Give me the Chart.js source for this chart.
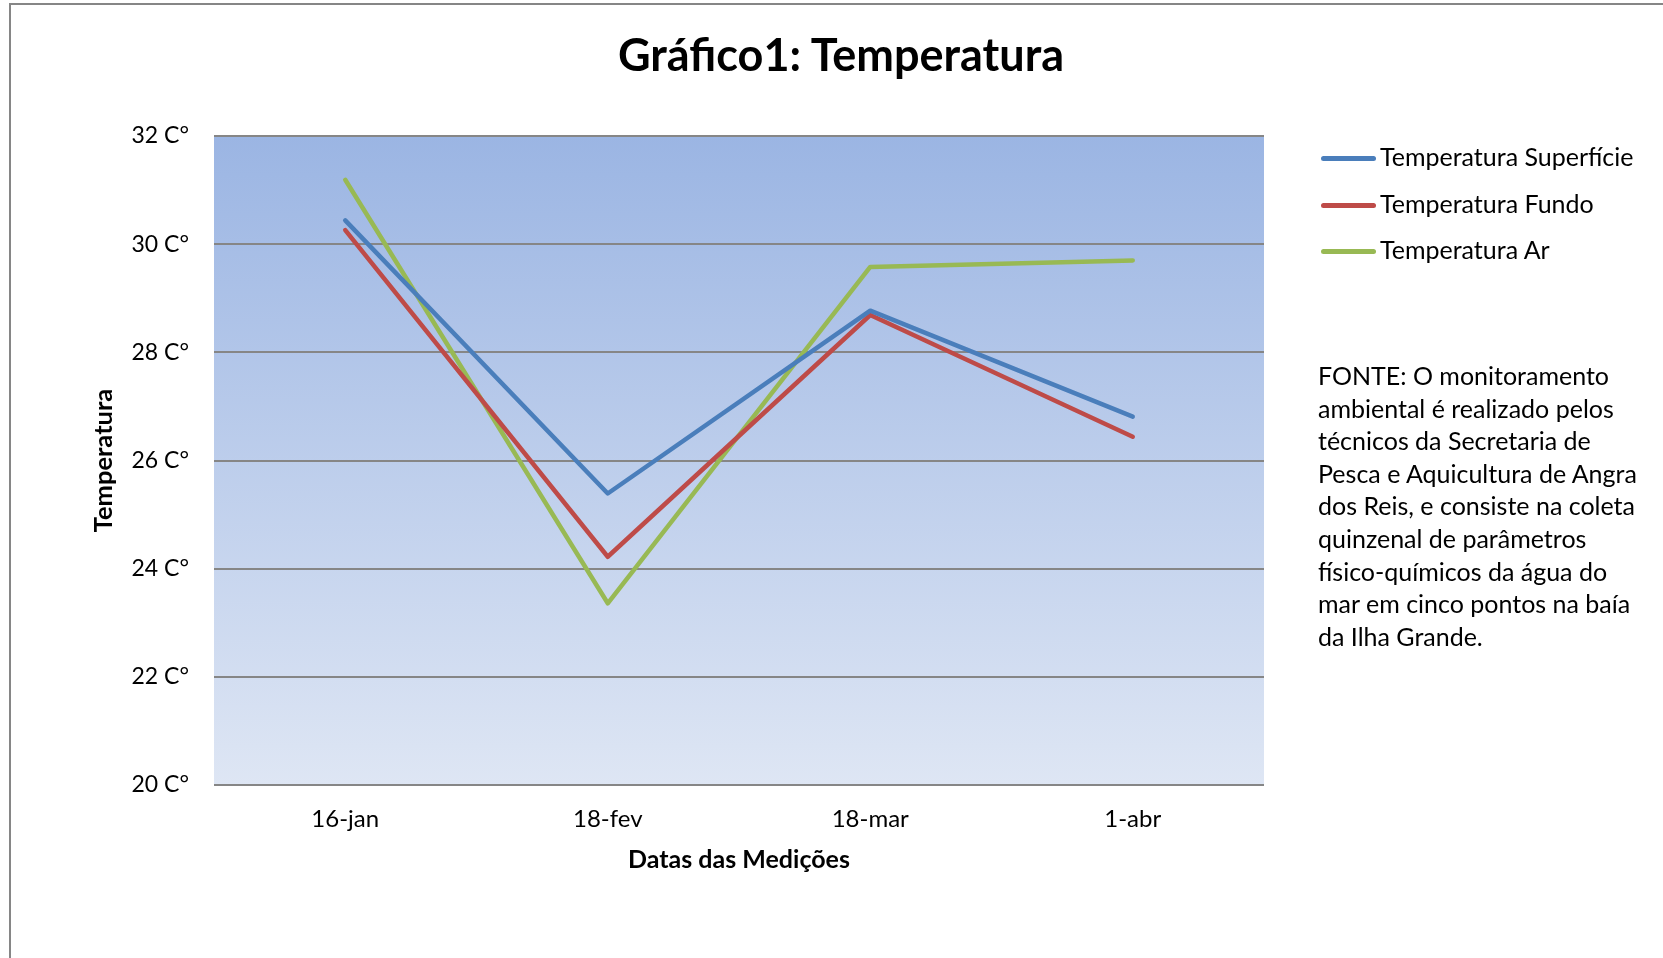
<!DOCTYPE html>
<html>
<head>
<meta charset="utf-8">
<script src="https://cdn.jsdelivr.net/npm/chart.js@4"></script>
<style>
  html, body { margin: 0; padding: 0; background: #fff; }
  body { width: 1663px; height: 958px; position: relative; overflow: hidden; font-family: Lato, "Open Sans", sans-serif; }
  #frame { position: absolute; left: 9px; top: 3px; width: 1700px; height: 1000px; border-left: 2px solid #868686; border-top: 2px solid #868686; }
  #wrap { position: absolute; left: 0; top: 0; width: 1663px; height: 958px; }
  #title { position: absolute; left: 0; width: 1682px; top: 28px; text-align: center; font-weight: bold; font-size: 45px; color: #000; line-height: 52px; }
  #legend { position: absolute; left: 1321px; top: 140px; }
  .li { position: relative; height: 46.5px; font-size: 25px; color: #000; line-height: 32px; white-space: nowrap; }
  .li span.sw { display: inline-block; width: 55px; height: 5px; border-radius: 3px; vertical-align: middle; margin-right: 4px; position: relative; top: -1px; }
  #note { position: absolute; left: 1318px; top: 359px; width: 345px; font-size: 25px; line-height: 32.6px; color: #000; white-space: nowrap; }
</style>
</head>
<body>
<div id="frame"></div>
<div id="wrap"><canvas id="c" width="1663" height="958"></canvas></div>
<div id="title">Gráfico1: Temperatura</div>
<div id="legend"></div>
<div id="note">FONTE: O monitoramento<br>ambiental é realizado pelos<br>técnicos da Secretaria de<br>Pesca e Aquicultura de Angra<br>dos Reis, e consiste na coleta<br>quinzenal de parâmetros<br>físico-químicos da água do<br>mar em cinco pontos na baía<br>da Ilha Grande.</div>
<script>
const categories = ['16-jan', '18-fev', '18-mar', '1-abr'];
const superficie = [30.44, 25.39, 28.77, 26.81];
const fundo = [30.26, 24.22, 28.69, 26.44];
const ar = [31.19, 23.36, 29.58, 29.70];
const seriesNames = ['Temperatura Superfície', 'Temperatura Fundo', 'Temperatura Ar'];
const yTicks = [20, 22, 24, 26, 28, 30, 32];
const yUnit = ' C°';
const xTitle = 'Datas das Medições';
const yTitle = 'Temperatura';

const colors = ['#4A7EBB', '#BE4B48', '#98B954'];

const bgPlugin = {
  id: 'plotBg',
  beforeDraw(chart) {
    const {ctx, chartArea: a} = chart;
    const g = ctx.createLinearGradient(0, a.top, 0, a.bottom);
    g.addColorStop(0, '#9BB5E3');
    g.addColorStop(1, '#DEE6F4');
    ctx.save();
    ctx.fillStyle = g;
    ctx.fillRect(a.left, a.top, a.right - a.left, a.bottom - a.top);
    ctx.restore();
  }
};

const font = "Lato, 'Open Sans', sans-serif";
const chart = new Chart(document.getElementById('c'), {
  type: 'line',
  data: {
    labels: categories,
    datasets: [superficie, fundo, ar].map((d, i) => ({
      label: seriesNames[i],
      data: d,
      borderColor: colors[i],
      backgroundColor: colors[i],
      borderWidth: 4.5,
      pointRadius: 0,
      tension: 0,
      borderCapStyle: 'round',
      borderJoinStyle: 'round'
    }))
  },
  options: {
    responsive: false,
    animation: false,
    layout: { padding: { left: 0, top: 136, right: 399, bottom: 0 } },
    plugins: { legend: { display: false }, title: { display: false }, tooltip: { enabled: false } },
    scales: {
      x: {
        offset: true,
        grid: { display: false, drawTicks: false },
        border: { display: false },
        ticks: { color: '#000', font: { family: font, size: 24 }, padding: 20 },
        title: { display: true, text: xTitle, color: '#000', font: { family: font, size: 25, weight: 'bold' }, padding: { top: 0, bottom: 83 } },
        afterFit(s) { s.height = 958 - 785; }
      },
      y: {
        min: 20, max: 32,
        afterBuildTicks(s) { s.ticks = yTicks.map(v => ({ value: v })); },
        grid: { color: '#868686', lineWidth: 2, drawTicks: false },
        border: { display: false },
        ticks: { color: '#000', font: { family: font, size: 23 }, padding: 25, callback: v => v + yUnit },
        title: { display: true, text: yTitle, color: '#000', font: { family: font, size: 25.5, weight: 'bold' }, padding: { top: 88, bottom: 0 } },
        afterFit(s) { s.width = 214; }
      }
    }
  },
  plugins: [bgPlugin]
});

const leg = document.getElementById('legend');
chart.data.datasets.forEach(ds => {
  const d = document.createElement('div');
  d.className = 'li';
  const sw = document.createElement('span');
  sw.className = 'sw';
  sw.style.background = ds.borderColor;
  d.appendChild(sw);
  d.appendChild(document.createTextNode(ds.label));
  leg.appendChild(d);
});
</script>
</body>
</html>
